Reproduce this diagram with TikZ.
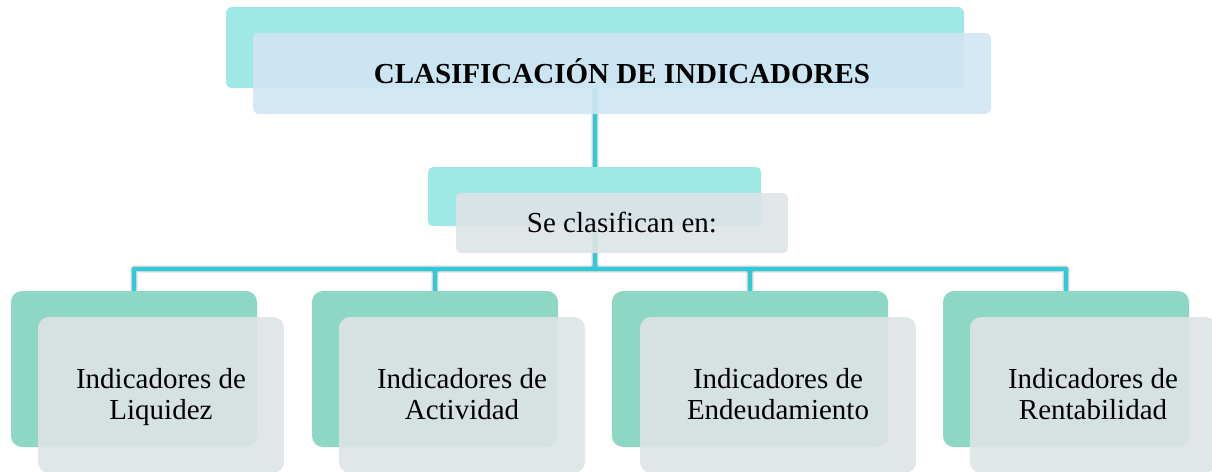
\documentclass[tikz,border=0pt]{standalone}
\usepackage{fontspec}
\setmainfont{Liberation Serif}
\pgfdeclarelayer{background}
\pgfsetlayers{background,main}
\definecolor{linec}{HTML}{29CCD8}
\definecolor{tealback}{HTML}{9EE8E6}
\definecolor{blueface}{HTML}{D0E6F4}
\definecolor{greyface}{HTML}{DEE3E6}
\definecolor{greenback}{HTML}{8DD7C4}
\newcommand{\lnstrut}{\vphantom{dIqy}}
\begin{document}
\begin{tikzpicture}[x=1pt,y=-1pt,
  conn/.style={draw=linec, line width=4.5pt, line join=round},
  shadeA/.style={draw=black, opacity=0.07, line width=8pt, line join=round, xshift=1.5pt, yshift=-2.5pt},
  shadeB/.style={draw=black, opacity=0.12, line width=5.5pt, line join=round, xshift=1.5pt, yshift=-2pt},
  box/.style={inner sep=0pt, outer sep=0pt, draw=none, align=center},
  topback/.style={box, fill=tealback, rounded corners=6pt, minimum width=738pt, minimum height=81pt},
  topface/.style={box, fill=blueface, fill opacity=0.9, text opacity=1, rounded corners=6pt, minimum width=738pt, minimum height=81pt,
     font=\fontsize{29}{31}\selectfont\bfseries, text height=20pt, text depth=0pt},
  midback/.style={box, fill=tealback, rounded corners=5pt, minimum width=333pt, minimum height=59pt},
  midface/.style={box, fill=greyface, fill opacity=0.9, text opacity=1, rounded corners=5pt, minimum width=332pt, minimum height=60pt,
     font=\fontsize{29}{31}\selectfont, text height=18pt, text depth=0pt},
  lowback/.style={box, fill=greenback, rounded corners=11pt, minimum height=156pt},
  lowface/.style={box, fill=greyface, fill opacity=0.9, text opacity=1, rounded corners=11pt, minimum height=156pt,
     font=\fontsize{29}{31}\selectfont}
]
\useasboundingbox (0,0) rectangle (1212,471);
\clip (0,0) rectangle (1212,471);

% top
\node[topback] (tb) at (595,47.5) {};
\node[topface] (tf) at (622,73.5) {CLASIFICACIÓN DE INDICADORES};
% middle
\node[midback] (mb) at (594.5,196.5) {};
\node[midface] (mf) at (622,223) {Se clasifican en:};
% bottom
\node[lowback, minimum width=246pt] (b1) at (134,369) {};
\node[lowface, minimum width=246pt] (f1) at (161,395) {};
\node[lowback, minimum width=246pt] (b2) at (435,369) {};
\node[lowface, minimum width=246pt] (f2) at (462,395) {};
\node[lowback, minimum width=276pt] (b3) at (750,369) {};
\node[lowface, minimum width=276pt] (f3) at (778,395) {};
\node[lowback, minimum width=246pt] (b4) at (1066,369) {};
\node[lowface, minimum width=246pt] (f4) at (1093,395) {};
\begin{scope}[every node/.style={box, font=\fontsize{29}{31}\selectfont}]
\node (t1) at (161,397.5) {\lnstrut Indicadores de\\\lnstrut Liquidez};
\node (t2) at (462,397.5) {\lnstrut Indicadores de\\\lnstrut Actividad};
\node (t3) at (778,397.5) {\lnstrut Indicadores de\\\lnstrut Endeudamiento};
\node (t4) at (1093,397.5) {\lnstrut Indicadores de\\\lnstrut Rentabilidad};
\end{scope}

\coordinate (hub) at (595,269);

\begin{pgfonlayer}{background}
  \foreach \s in {shadeA,shadeB}{
    \draw[\s] (tb.south) -- (hub);
    \draw[\s] (b1.north) |- (hub) -| (b4.north);
    \draw[\s] (b2.north) -- (b2.north |- hub);
    \draw[\s] (b3.north) -- (b3.north |- hub);
  }
  \draw[conn] (tb.south) -- (hub);
  \draw[conn] (b1.north) |- (hub) -| (b4.north);
  \draw[conn] (b2.north) -- (b2.north |- hub);
  \draw[conn] (b3.north) -- (b3.north |- hub);
\end{pgfonlayer}
\end{tikzpicture}
\end{document}
